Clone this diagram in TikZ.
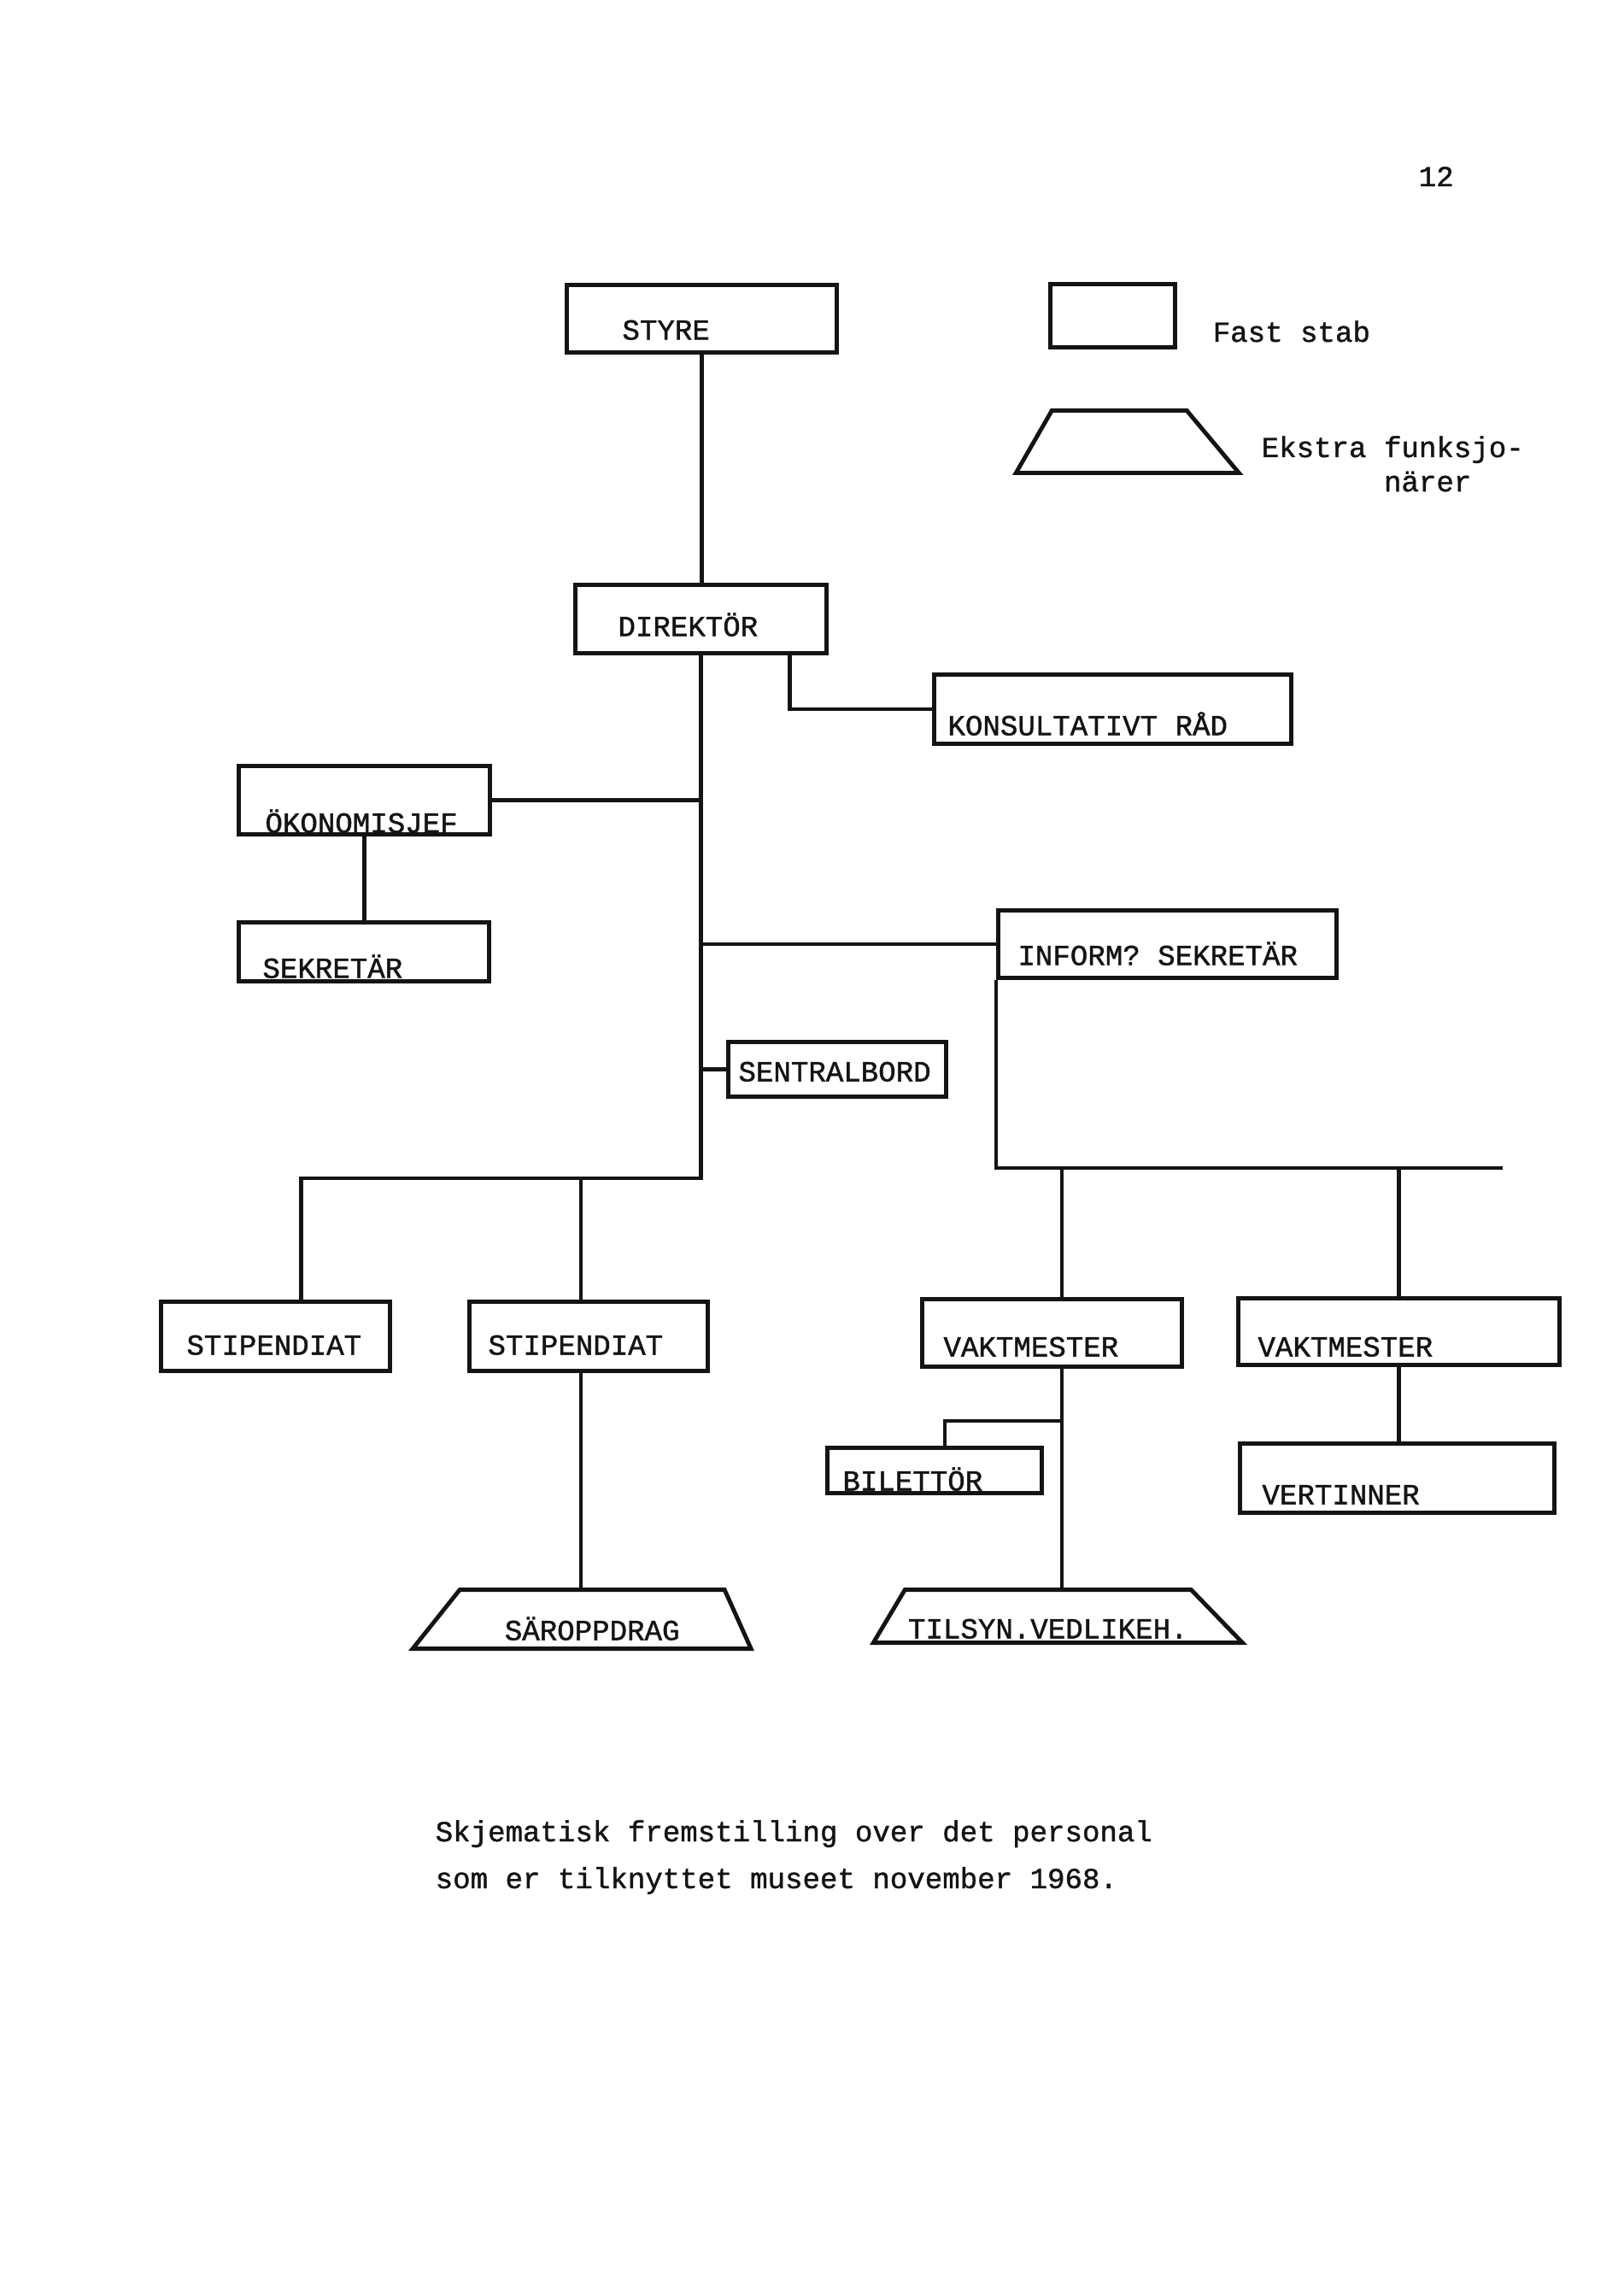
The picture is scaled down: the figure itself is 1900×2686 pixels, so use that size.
\documentclass[tikz,border=0pt]{standalone}
\usepackage{fontspec}
\usepackage{xcolor}
\usepackage{tikz}
\usetikzlibrary{shapes.geometric}
\newfontfamily\typewriter{Liberation Mono}[FakeBold=1.2]
\definecolor{ink}{RGB}{20,20,20}

\begin{document}
\begin{tikzpicture}[
      x=0.01cm, y=-0.01cm,
      txt/.style = {font=\typewriter\fontsize{9.7pt}{11.4pt}\selectfont, text=ink},
      box/.style n args={4}{draw=ink, line width=1.4pt, txt, anchor=south west,
                    inner ysep=0pt, inner xsep=#3*0.01cm, align=flush left,
                    text width=(#1-2*#3)*0.01cm, text height=(#2-#4)*0.01cm,
                    text depth=#4*0.01cm},
      extrabox/.style n args={5}{draw=ink, line width=1.4pt, txt, trapezium,
                    trapezium left angle=#3, trapezium right angle=#4,
                    trapezium stretches body=true, anchor=bottom left corner,
                    minimum width=#1*0.01cm, minimum height=#2*0.01cm,
                    inner sep=0pt, text height=(#2-#5)*0.01cm, text depth=#5*0.01cm},
      conn/.style = {draw=ink, line width=1.3pt},
    ]
    \useasboundingbox (0,0) rectangle (1900,2686);

    \node[txt, anchor=base west, inner sep=0pt] (P) at (1660,218) {12};

    \node[box={316}{79}{65}{15}] (S)   at (661,415)  {STYRE};
    \node[box={294}{80}{50}{20}] (D)   at (671,767)  {DIREKTÖR};
    \node[box={418}{81}{16}{10}] (K)   at (1091,873) {KONSULTATIVT RÅD};
    \node[box={294}{80}{31}{2}]  (O)   at (277,979)  {ÖKONOMISJEF};
    \node[box={293}{69}{28}{4}]  (SE)  at (277,1151) {SEKRETÄR};
    \node[box={396}{79}{23}{15}] (I)   at (1166,1147) {INFORM? SEKRETÄR};
    \node[box={255}{64}{12}{18}] (SB)  at (850,1286) {SENTRALBORD};
    \node[box={268}{81}{30}{19}] (ST1) at (186,1607) {STIPENDIAT};
    \node[box={279}{81}{22}{19}] (ST2) at (547,1607) {STIPENDIAT};
    \node[box={304}{79}{25}{12}] (V1)  at (1077,1602) {VAKTMESTER};
    \node[box={376}{78}{23}{10}] (V2)  at (1447,1600) {VAKTMESTER};
    \node[box={251}{53}{18}{3}]  (B)   at (966,1750) {BILETTÖR};
    \node[box={368}{81}{26}{10}] (VE)  at (1449,1773) {VERTINNER};
    \node[extrabox={396}{69}{51.4}{65.8}{10}] (SA) at (478,1932) {SÄROPPDRAG};
    \node[extrabox={432}{62}{59.2}{45.9}{5}]  (T)  at (1018,1925) {TILSYN.VEDLIKEH.};

    \node[box={146}{74}{0}{0}] (LB) at (1227,409) {};
    \node[txt, anchor=base west, inner sep=0pt] (LBT) at (1419,400) {Fast stab};
    \node[extrabox={261}{73}{60.1}{50.1}{0}] (LT) at (1185,556) {};
    \node[txt, anchor=base west, inner sep=0pt, text width=4cm, align=flush left] (LTT)
      at (1476,535) {Ekstra funksjo-\\\phantom{Ekstra }närer};

    \node[txt, anchor=base west, inner sep=0pt, text width=9cm, align=flush left,
      font=\typewriter\fontsize{9.7pt}{15.6pt}\selectfont] (C) at (509,2155)
      {Skjematisk fremstilling over det personal\\som er tilknyttet museet november 1968.};

    \coordinate (hub)  at (824,1379);
    \coordinate (rhub) at (1759,1367);
    \coordinate (vj)   at (1243,1367);
    \coordinate (bj)   at (1243,1663);

    \draw[conn] (S.south) -- (S.south |- D.north);
    \draw[conn] (D.south) -- (D.south |- hub) -| ([xshift=0.3cm]ST1.north);
    \draw[conn] ([xshift=1.04cm]D.south) |- (K.west);
    \draw[conn] (O.east) -- (O.east -| D.south);
    \draw[conn] (O.south) -- (O.south |- SE.north);
    \draw[conn] (I.west) -- (I.west -| D.south);
    \draw[conn] (SB.west) -- (SB.west -| D.south);
    \draw[conn] ([xshift=-0.09cm]ST2.north) -- ([xshift=-0.09cm]ST2.north |- hub);
    \draw[conn] ([xshift=-0.09cm]ST2.south) -- ([xshift=-0.09cm]ST2.south |- SA.north);
    \draw[conn] (I.south west) |- (rhub);
    \draw[conn] (vj) -- (vj |- V1.north);
    \draw[conn] (V1.south -| vj) -- (vj |- T.north);
    \draw[conn] (bj) -| ([xshift=0.12cm]B.north);
    \draw[conn] (V2.north) -- (V2.north |- rhub);
    \draw[conn] (V2.south) -- (V2.south |- VE.north);
  \end{tikzpicture}
\end{document}
